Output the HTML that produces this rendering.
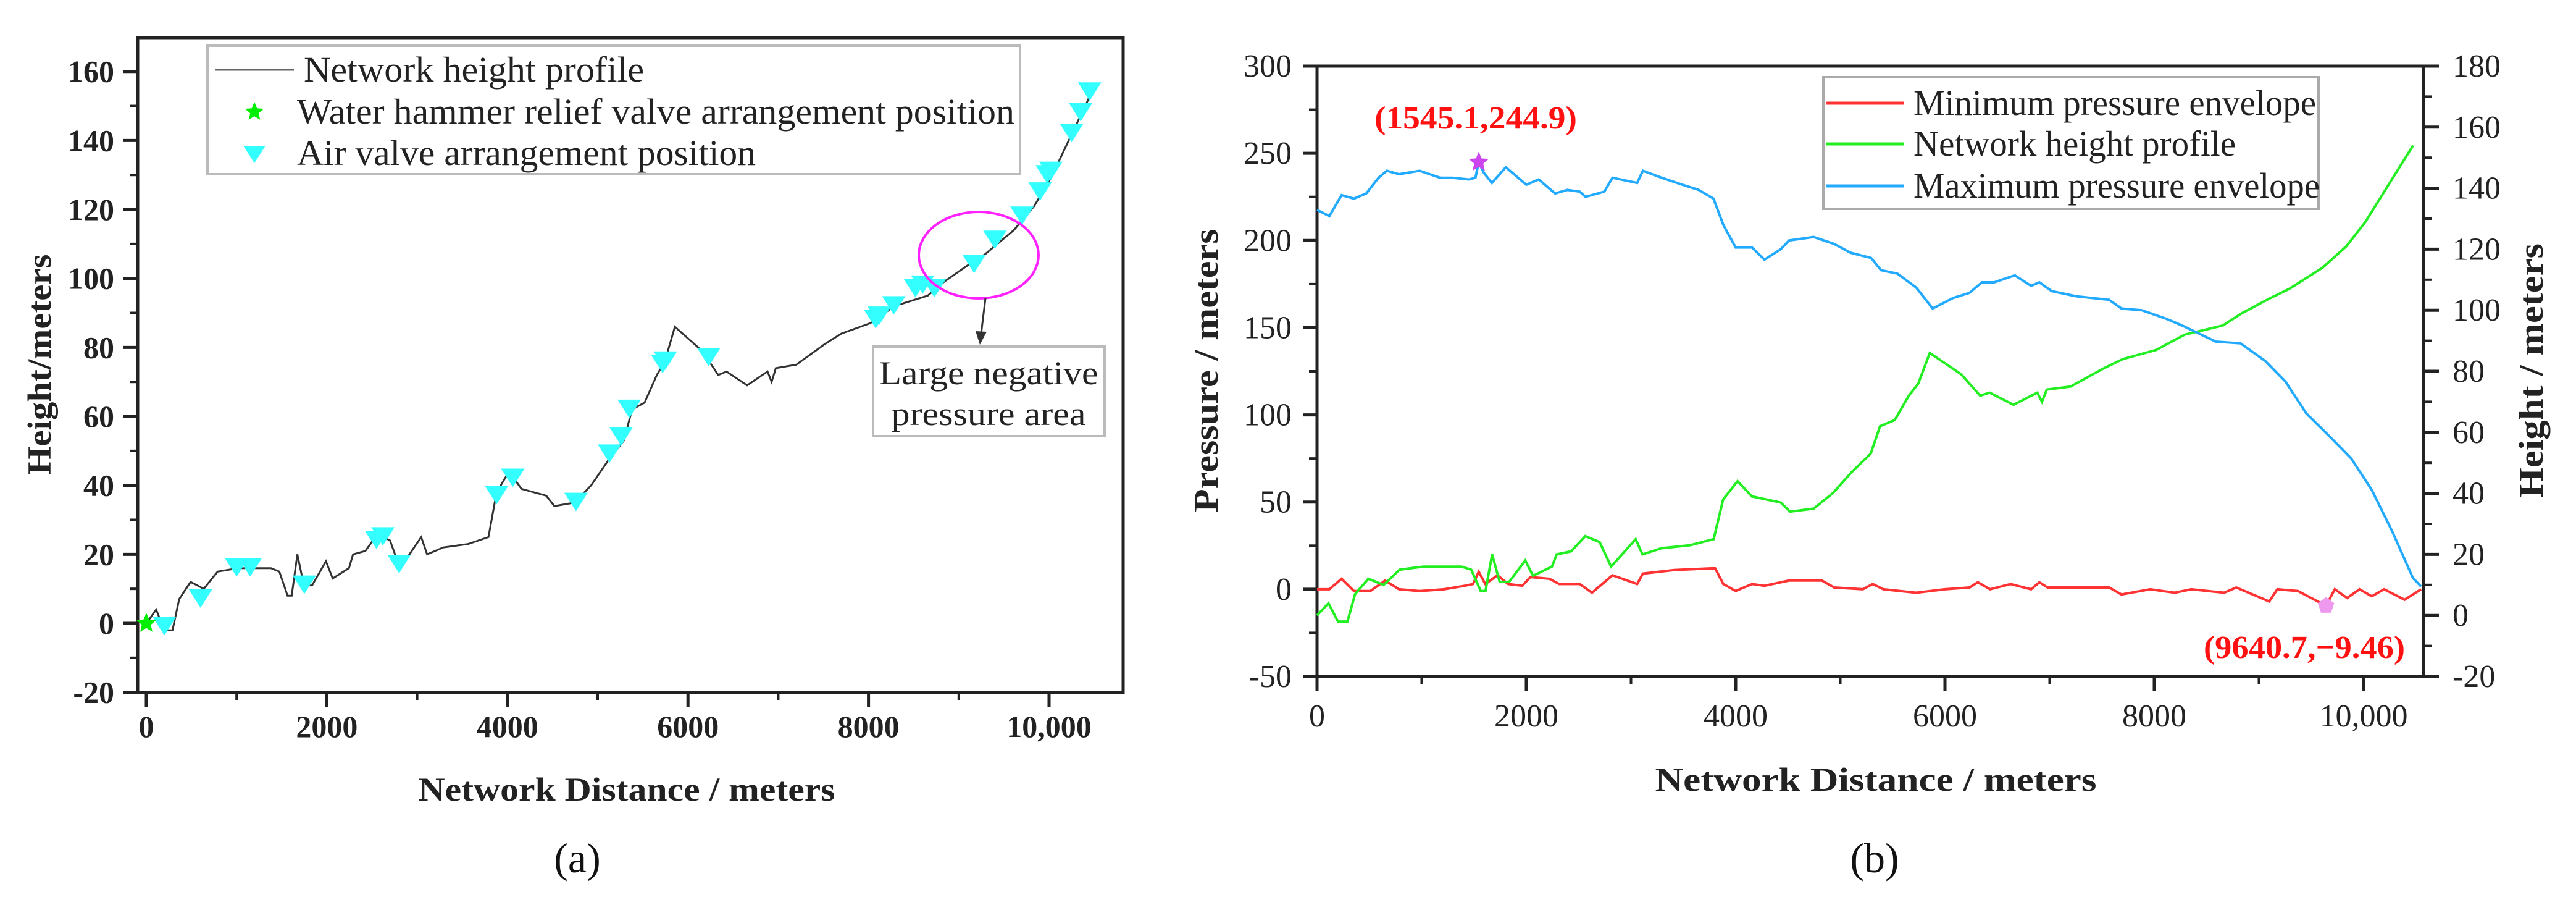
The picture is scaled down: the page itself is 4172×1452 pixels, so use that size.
<!DOCTYPE html>
<html><head><meta charset="utf-8"><style>
html,body{margin:0;padding:0;background:#fff;}
svg{display:block;font-family:"Liberation Serif",serif;}
</style></head><body>
<svg id="fig" width="4172" height="1452" viewBox="0 0 4172 1452" xmlns="http://www.w3.org/2000/svg">
<g id="chartA"></g>
<g id="chartB"></g>
</svg>
<script>
// ---- Data (chart a & green line of chart b) ----
const heightX = [0,109,200,290,364,490,564,636,790,1018,1200,1380,1473,1564,1610,1673,1745,1836,1990,2064,2245,2290,2427,2564,2700,2810,3045,3110,3290,3564,3790,3880,4018,4155,4430,4520,4745,4927,5110,5290,5380,5520,5655,5745,5855,6155,6336,6427,6655,6882,6927,6973,7200,7518,7700,8018,8290,8655,8836,9110,9290,9610,9836,10018,10200,10473];
const heightY = [0,4,-2,-2,7,12,11,10,15,16,16,16,15,8,8,20,11,11,18,13,16,20,21,26,24,16,25,20,22,23,25,38,44,39,37,34,35,40,47,53,62,64,72,76,86,79,72,73,69,73,70,74,75,81,84,87,92,95,99,104,107,114,121,129,139,154];
const valveX = [200,600,1000,1150,1750,2550,2620,2800,3880,4060,4760,5130,5260,5350,5720,5750,6230,8080,8120,8280,8520,8600,8730,9170,9400,9700,9900,9980,10020,10250,10350,10450];
const valveY = [-1,7,16,16,11,24,25,17,37,42,35,49,54,62,75,76,77,88,89,92,97,98,97,104,111,118,125,130,131,142,148,154];
const reliefX = [0];
const reliefY = [0];
const aYTicks = [-20,0,20,40,60,80,100,120,140,160];
const aXTicks = [0,2000,4000,6000,8000,10000];
const aXTickLabels = ["0","2000","4000","6000","8000","10,000"];
// ---- Data (chart b) ----
const maxX = [0,118,235,353,471,588,667,784,980,1176,1294,1451,1514,1545,1592,1671,1804,2000,2118,2275,2392,2510,2565,2745,2823,3059,3114,3294,3490,3647,3788,3882,4000,4157,4275,4431,4510,4745,4941,5098,5294,5388,5545,5725,5882,6078,6235,6353,6470,6667,6823,6902,7020,7255,7569,7686,7882,8118,8275,8588,8824,9059,9255,9451,9686,9882,10078,10275,10471,10549];
const maxY = [217.6,214,226,224,227,236,240,238,240,236,236,235,236,245,239,233,242,232,235,227,229,228,225,228,236,233,240,236,232,229,224,209,196,196,189,195,200,202,198,193,190,183,181,173,161,167,170,176,176,180,174,176,171,168,166,161,160,155,151,142,141,131,119,101,87,75,57,33,6.5,1.6];
const minX = [0,118,235,353,510,651,784,980,1216,1412,1490,1545,1608,1725,1827,1961,2039,2220,2314,2510,2627,2823,3059,3114,3412,3765,3804,3882,4000,4157,4275,4510,4824,4941,5216,5310,5412,5725,6000,6235,6314,6431,6627,6823,6902,6980,7569,7686,7961,8196,8353,8667,8784,9098,9176,9373,9640.7,9725,9843,9961,10078,10196,10392,10549];
const minY = [0,0,6,-1,-1,5,0,-1,0,2,3,10,3,8,3,2,7,6,3,3,-2,8,3,9,11,12,12,3,-1,3,2,5,5,1,0,3,0,-2,0,1,4,0,3,0,4,1,1,-3,0,-2,0,-2,1,-7,0,-1,-9.46,0,-5,0,-4,0,-6,0];
const bLeftTicks = [-50,0,50,100,150,200,250,300];
const bRightTicks = [-20,0,20,40,60,80,100,120,140,160,180];
const bXTicks = [0,2000,4000,6000,8000,10000];
const bXTickLabels = ["0","2000","4000","6000","8000","10,000"];
const peakPoint = [1545.1,244.9];
const lowPoint = [9640.7,-9.46];

const NS = "http://www.w3.org/2000/svg";
function mk(parent, tag, attrs, text){
  const e = document.createElementNS(NS, tag);
  for (const k in attrs) e.setAttribute(k, attrs[k]);
  if (text !== undefined) e.textContent = text;
  parent.appendChild(e);
  return e;
}
const axA = v => 237 + v * 0.1462;
const ayA = v => 1009 - v * 5.583;
const axB = v => 2133 + v * 0.1695;
const ayB = v => 107 + (300 - v) * 2.8229;
const ayBR = v => 107 + (180 - v) * 4.94;

// ================= Chart A =================
const A = document.getElementById('chartA');
let e;
e = mk(A,'path',{d:'M223 61 H1819 V1121 H223 Z',fill:'none',stroke:'#222','stroke-width':5});


for (let i=0;i<aYTicks.length;i++){
  const v=aYTicks[i], y=ayA(v);
  e = mk(A,'line',{x1:200,x2:223,y1:y,y2:y,stroke:'#222','stroke-width':5});
  
  
  if (i<aYTicks.length-1){
    const ym=ayA(v+10);
    e = mk(A,'line',{x1:211,x2:223,y1:ym,y2:ym,stroke:'#222','stroke-width':4});
    
    
  }
  e = mk(A,'text',{x:185,y:y+17,'text-anchor':'end','font-size':50,'font-weight':'bold',fill:'#222'},String(v));
  
  
}
for (let i=0;i<aXTicks.length;i++){
  const x=axA(aXTicks[i]);
  e = mk(A,'line',{x1:x,x2:x,y1:1121,y2:1144,stroke:'#222','stroke-width':5});
  
  
  const xm=axA(aXTicks[i]+1000);
  if (xm<1819){
    e = mk(A,'line',{x1:xm,x2:xm,y1:1121,y2:1133,stroke:'#222','stroke-width':4});
    
    
  }
  e = mk(A,'text',{x:x,y:1193,'text-anchor':'middle','font-size':50,'font-weight':'bold',fill:'#222'},aXTickLabels[i]);
  
  
}
let d='';
for (let i=0;i<heightX.length;i++) d += (i?'L':'M') + axA(heightX[i]).toFixed(1)+' '+ayA(heightY[i]).toFixed(1)+' ';
e = mk(A,'path',{d:d,fill:'none',stroke:'#333','stroke-width':3});


for (let i=0;i<valveX.length;i++){
  const x=axA(valveX[i]), y=ayA(valveY[i]);
  e = mk(A,'path',{d:`M${x-19} ${y-16} L${x+19} ${y-16} L${x} ${y+14} Z`,fill:'#33ffff'});
  
  
}
function star(parent,cx,cy,r,fill){
  let p='';
  for(let k=0;k<10;k++){const a=-Math.PI/2+k*Math.PI/5; const rr=k%2?r*0.45:r; p+=(k?'L':'M')+(cx+rr*Math.cos(a)).toFixed(1)+' '+(cy+rr*Math.sin(a)).toFixed(1);}
  return mk(parent,'path',{d:p+'Z',fill:fill});
}
for (let i=0;i<reliefX.length;i++){
  e = star(A,axA(reliefX[i]),ayA(reliefY[i]),17,'#00ee00');
  
  
}
e = mk(A,'rect',{x:336,y:74,width:1316,height:208,fill:'#fff',stroke:'#bbb','stroke-width':4});


e = mk(A,'line',{x1:348,x2:476,y1:113,y2:113,stroke:'#666','stroke-width':3});


e = star(A,412,181,16,'#00ee00');


e = mk(A,'path',{d:'M394 236 L430 236 L412 264 Z',fill:'#33ffff'});


e = mk(A,'text',{x:492,y:132,'font-size':58,fill:'#222',textLength:551,lengthAdjust:'spacingAndGlyphs'},'Network height profile');


e = mk(A,'text',{x:481,y:200,'font-size':58,fill:'#222',textLength:1162,lengthAdjust:'spacingAndGlyphs'},'Water hammer relief valve arrangement position');


e = mk(A,'text',{x:481,y:267,'font-size':58,fill:'#222',textLength:743,lengthAdjust:'spacingAndGlyphs'},'Air valve arrangement position');


e = mk(A,'ellipse',{cx:1585,cy:413,rx:97,ry:70,fill:'none',stroke:'#ff22ff','stroke-width':4});


e = mk(A,'path',{d:'M1596 483 L1589 540',stroke:'#333','stroke-width':3,fill:'none'});


e = mk(A,'path',{d:'M1580 536 L1598 537 L1587 558 Z',fill:'#333'});


e = mk(A,'rect',{x:1414,y:561,width:375,height:145,fill:'#fff',stroke:'#bbb','stroke-width':4});


e = mk(A,'text',{x:1601,y:622,'text-anchor':'middle','font-size':54,fill:'#222',textLength:355,lengthAdjust:'spacingAndGlyphs'},'Large negative');


e = mk(A,'text',{x:1601,y:688,'text-anchor':'middle','font-size':54,fill:'#222',textLength:315,lengthAdjust:'spacingAndGlyphs'},'pressure area');


e = mk(A,'text',{x:1015,y:1296,'text-anchor':'middle','font-size':54,'font-weight':'bold',fill:'#222',textLength:675,lengthAdjust:'spacingAndGlyphs'},'Network Distance / meters');


e = mk(A,'text',{x:0,y:0,'text-anchor':'middle','font-size':54,'font-weight':'bold',fill:'#222',textLength:357,lengthAdjust:'spacingAndGlyphs',transform:'translate(82,590) rotate(-90)'},'Height/meters');


e = mk(A,'text',{x:935,y:1412,'text-anchor':'middle','font-size':68,fill:'#111'},'(a)');



// ================= Chart B =================
const B = document.getElementById('chartB');
e = mk(B,'path',{d:'M2133 107 H3925 V1095 H2133 Z',fill:'none',stroke:'#222','stroke-width':5});


for (let i=0;i<bLeftTicks.length;i++){
  const v=bLeftTicks[i], y=ayB(v);
  e = mk(B,'line',{x1:2110,x2:2133,y1:y,y2:y,stroke:'#222','stroke-width':5});
  
  
  if (i<bLeftTicks.length-1){
    const ym=ayB(v+25);
    e = mk(B,'line',{x1:2120,x2:2133,y1:ym,y2:ym,stroke:'#222','stroke-width':4});
    
    
  }
  e = mk(B,'text',{x:2092,y:y+17,'text-anchor':'end','font-size':52,fill:'#222'},String(v));
  
  
}
for (let i=0;i<bRightTicks.length;i++){
  const v=bRightTicks[i], y=ayBR(v);
  e = mk(B,'line',{x1:3925,x2:3950,y1:y,y2:y,stroke:'#222','stroke-width':5});
  
  
  if (i<bRightTicks.length-1){
    const ym=ayBR(v+10);
    e = mk(B,'line',{x1:3925,x2:3938,y1:ym,y2:ym,stroke:'#222','stroke-width':4});
    
    
  }
  e = mk(B,'text',{x:3972,y:y+17,'text-anchor':'start','font-size':52,fill:'#222'},String(v));
  
  
}
for (let i=0;i<bXTicks.length;i++){
  const x=axB(bXTicks[i]);
  e = mk(B,'line',{x1:x,x2:x,y1:1095,y2:1118,stroke:'#222','stroke-width':5});
  
  
  const xm=axB(bXTicks[i]+1000);
  if (xm<3925){
    e = mk(B,'line',{x1:xm,x2:xm,y1:1095,y2:1108,stroke:'#222','stroke-width':4});
    
    
  }
  e = mk(B,'text',{x:x,y:1176,'text-anchor':'middle','font-size':52,fill:'#222'},bXTickLabels[i]);
  
  
}
function line(xs,ys,fx,fy){let s='';for(let i=0;i<xs.length;i++) s+=(i?'L':'M')+fx(xs[i]).toFixed(1)+' '+fy(ys[i]).toFixed(1)+' ';return s;}
e = mk(B,'path',{d:line(minX,minY,axB,ayB),fill:'none',stroke:'#ff3333','stroke-width':4});


e = mk(B,'path',{d:line(heightX,heightY,axB,ayBR),fill:'none',stroke:'#22ee22','stroke-width':4});


e = mk(B,'path',{d:line(maxX,maxY,axB,ayB),fill:'none',stroke:'#22aaff','stroke-width':4});


e = star(B,axB(peakPoint[0]),ayB(peakPoint[1]),17,'#cc44ee');


{
  const cx=axB(lowPoint[0]), cy=ayB(lowPoint[1]); let p='';
  for(let k=0;k<5;k++){const a=-Math.PI/2+k*2*Math.PI/5;p+=(k?'L':'M')+(cx+14*Math.cos(a)).toFixed(1)+' '+(cy+14*Math.sin(a)).toFixed(1);}
  e = mk(B,'path',{d:p+'Z',fill:'#ee99ee'});
  
  
}
e = mk(B,'text',{x:2226,y:208,'font-size':52,'font-weight':'bold',fill:'#ff1111',textLength:328,lengthAdjust:'spacingAndGlyphs'},'('+peakPoint[0]+','+peakPoint[1]+')');


e = mk(B,'text',{x:3569,y:1065,'font-size':52,'font-weight':'bold',fill:'#ff1111',textLength:326,lengthAdjust:'spacingAndGlyphs'},'(9640.7,−9.46)');


e = mk(B,'rect',{x:2953,y:125,width:802,height:213,fill:'#fff',stroke:'#aaa','stroke-width':4});


const legB = [['Minimum pressure envelope','#ff3333',167,652,'legend-entry-min'],['Network height profile','#22ee22',233,522,'legend-entry-height-b'],['Maximum pressure envelope','#22aaff',301,658,'legend-entry-max']];
for (const [t,c,y,len,nm] of legB){
  e = mk(B,'line',{x1:2957,x2:3083,y1:y,y2:y,stroke:c,'stroke-width':5});
  
  
  e = mk(B,'text',{x:3099,y:y+19,'font-size':58,fill:'#222',textLength:len,lengthAdjust:'spacingAndGlyphs'},t);
  
  
}
e = mk(B,'text',{x:3038,y:1280,'text-anchor':'middle','font-size':54,'font-weight':'bold',fill:'#222',textLength:715,lengthAdjust:'spacingAndGlyphs'},'Network Distance / meters');


e = mk(B,'text',{x:0,y:0,'text-anchor':'middle','font-size':56,'font-weight':'bold',fill:'#222',textLength:459,lengthAdjust:'spacingAndGlyphs',transform:'translate(1972,600) rotate(-90)'},'Pressure / meters');


e = mk(B,'text',{x:0,y:0,'text-anchor':'middle','font-size':56,'font-weight':'bold',fill:'#222',textLength:412,lengthAdjust:'spacingAndGlyphs',transform:'translate(4118,600) rotate(-90)'},'Height / meters');


e = mk(B,'text',{x:3036,y:1412,'text-anchor':'middle','font-size':68,fill:'#111'},'(b)');


</script>
</body></html>
